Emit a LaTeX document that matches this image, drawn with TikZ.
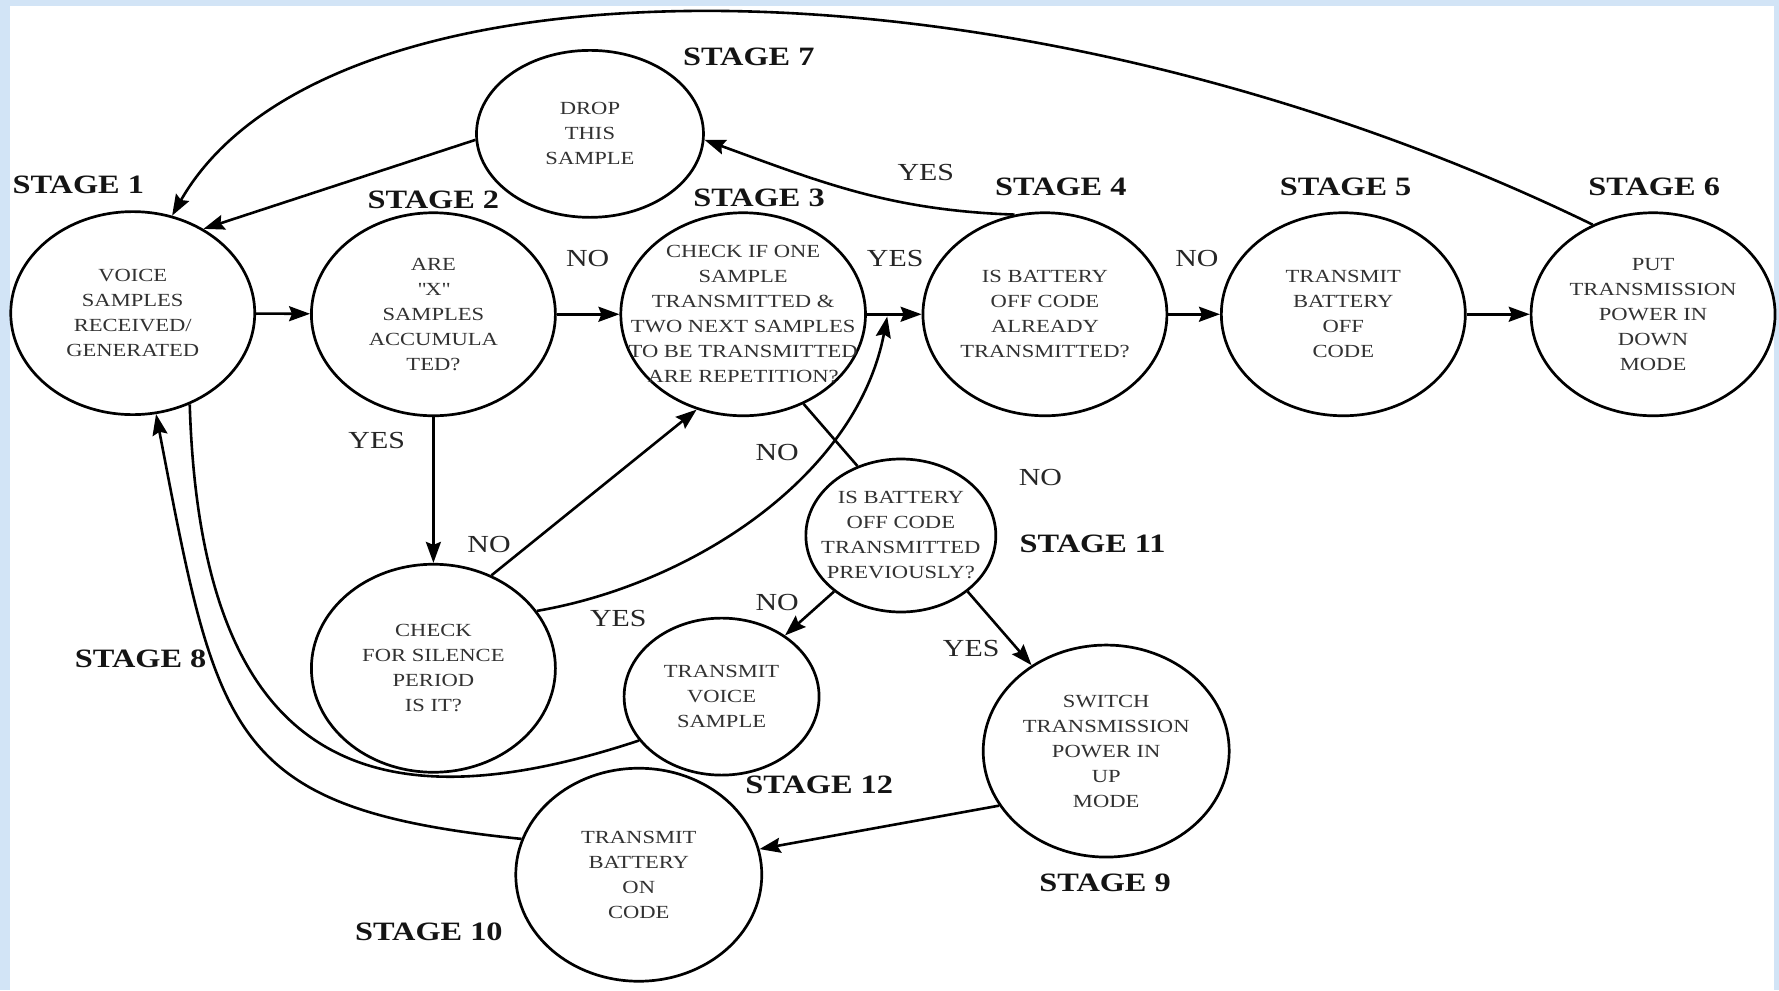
\documentclass[tikz,border=0pt]{standalone}
\usepackage{fontspec}
\setmainfont{Liberation Serif}[FakeStretch=1.22]
\usetikzlibrary{arrows.meta,shapes.geometric}
\definecolor{paleblue}{RGB}{210,228,246}
\definecolor{inktext}{RGB}{50,50,50}

\begin{document}
\begin{tikzpicture}[x=1.1346pt, y=1.1346pt,
	>={Stealth[length=21pt,width=15pt,inset=3pt]},
	flow/.style={line width=2.6pt},
	stage/.style={ellipse, draw=black, line width=2.7pt, inner sep=-28pt,
		minimum width=244pt, minimum height=203pt, align=center,
		text=inktext, font=\fontsize{18.5}{25}\selectfont},
	stagelbl/.style={font=\fontsize{26.5}{30}\selectfont\bfseries, text=black!92},
	answer/.style={font=\fontsize{24.5}{28}\selectfont, text=black!85}]

	\useasboundingbox[fill=paleblue] (0, 0) rectangle (1568, 873);
	\fill[white] (9, 0) rectangle (1564, 868);

	% top row
	\node[stage] (s1) at (117, 597) {VOICE\\SAMPLES\\RECEIVED/\\GENERATED};
	\node[stage] (s2) at (382, 596) {ARE\\\textquotedbl X\textquotedbl\\SAMPLES\\ACCUMULA\\TED?};
	\node[stage] (s3) at (655, 596) {CHECK IF ONE\\SAMPLE\\TRANSMITTED \&\\TWO NEXT SAMPLES\\TO BE TRANSMITTED\\ARE REPETITION?};
	\node[stage] (s4) at (921, 596) {IS BATTERY\\OFF CODE\\ALREADY\\TRANSMITTED?};
	\node[stage] (s5) at (1184, 596) {TRANSMIT\\BATTERY\\OFF\\CODE};
	\node[stage] (s6) at (1457, 596) {PUT\\TRANSMISSION\\POWER IN\\DOWN\\MODE};
	\node[stage, minimum width=227pt, minimum height=167pt] (s7) at (520, 755) {DROP\\THIS\\SAMPLE};

	% lower part
	\node[stage, minimum width=244pt, minimum height=208pt] (s8) at (382, 284) {CHECK\\FOR SILENCE\\PERIOD\\IS IT?};
	\node[stage, minimum width=190pt, minimum height=153pt] (s11) at (794, 401) {IS BATTERY\\OFF CODE\\TRANSMITTED\\PREVIOUSLY?};
	\node[stage, minimum width=195pt, minimum height=157pt] (s12) at (636, 259) {TRANSMIT\\VOICE\\SAMPLE};
	\node[stage, minimum width=246pt, minimum height=212pt] (s9) at (975, 211) {SWITCH\\TRANSMISSION\\POWER IN\\UP\\MODE};
	\node[stage, minimum width=246pt, minimum height=213pt] (s10) at (563, 102) {TRANSMIT\\BATTERY\\ON\\CODE};

	\coordinate (j34) at (782, 594);

	% stage names
	\node[stagelbl] (t1) at (69, 710) {STAGE 1};
	\node[stagelbl] (t2) at (382, 697) {STAGE 2};
	\node[stagelbl] (t3) at (669, 699) {STAGE 3};
	\node[stagelbl] (t4) at (935, 708) {STAGE 4};
	\node[stagelbl] (t5) at (1186, 708) {STAGE 5};
	\node[stagelbl] (t6) at (1458, 708) {STAGE 6};
	\node[stagelbl] (t7) at (660, 823) {STAGE 7};
	\node[stagelbl] (t8) at (124, 292) {STAGE 8};
	\node[stagelbl] (t9) at (974, 95) {STAGE 9};
	\node[stagelbl] (t10) at (378, 52) {STAGE 10};
	\node[stagelbl] (t11) at (963, 394) {STAGE 11};
	\node[stagelbl] (t12) at (722, 181) {STAGE 12};

	% answers
	\node[answer] (no23) at (518, 645) {NO};
	\node[answer] (yes34) at (789, 645) {YES};
	\node[answer] (no45) at (1055, 645) {NO};
	\node[answer] (yes47) at (816, 721) {YES};
	\node[answer] (yes28) at (332, 485) {YES};
	\node[answer] (no83) at (431, 393) {NO};
	\node[answer] (yes84) at (545, 328) {YES};
	\node[answer] (no311) at (685, 474) {NO};
	\node[answer] (no11) at (917, 452) {NO};
	\node[answer] (no1112) at (685, 342) {NO};
	\node[answer] (yes119) at (856, 301) {YES};

	\path[->, flow] (s1) edge (s2);
	\path[->, flow] (s2) edge (s3);
	\path[->, flow] (s3) edge (s4);
	\path[->, flow] (s4) edge (s5);
	\path[->, flow] (s5) edge (s6);

	\path[->, flow] (s4.107) edge [out=178, in=-20] (s7.-3);
	\path[->, flow] (s7.183) edge (s1.50);
	\draw[->, flow] (s6.124) .. controls (900, 920) and (290, 925) .. (s1.68);

	\path[->, flow] (s2) edge (s8);
	\path[->, flow] (s8.58) edge (s3.244);
	\draw[->, flow] (s8.29) .. controls (610, 358) and (755, 453) .. (j34);

	\path[-, flow] (s3.304) edge (s11.122);
	\path[->, flow] (s11.220) edge (s12.44);
	\path[->, flow] (s11.320) edge (s9.131);
	\path[->, flow] (s9.207) edge (s10.12);

	\draw[flow] (s1.302) .. controls (177, 193) and (330, 143) .. (s12.208);
	\draw[->, flow] (s10.163) .. controls (200, 160) and (192, 225) .. (s1.283);

\end{tikzpicture}
\end{document}
